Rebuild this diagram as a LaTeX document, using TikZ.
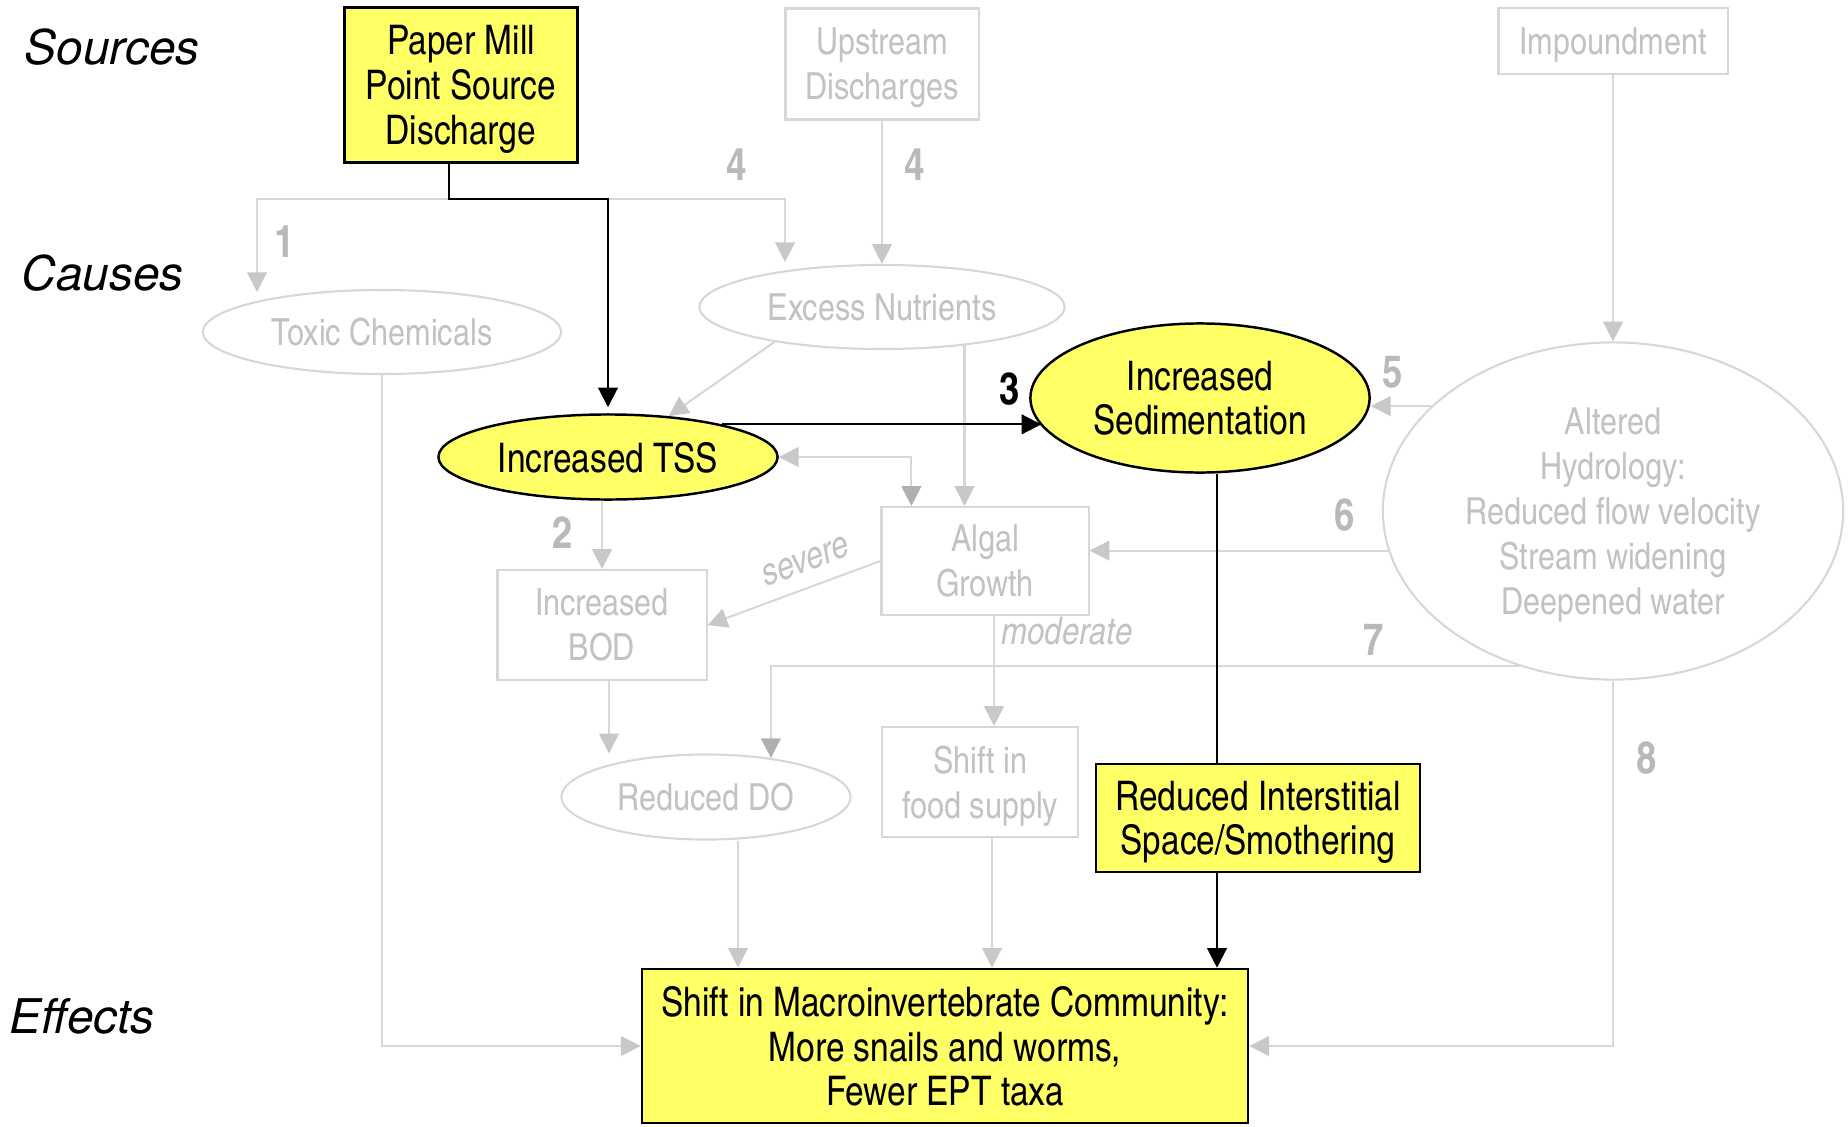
\documentclass[tikz,border=0pt]{standalone}
\usepackage{fontspec}
\setmainfont{texgyreheroscn}[Extension=.otf, UprightFont=*-regular, BoldFont=*-bold, ItalicFont=*-italic, BoldItalicFont=*-bolditalic]
\newfontfamily\widefont{texgyreheros}[Extension=.otf, UprightFont=*-regular, ItalicFont=*-italic]
\usetikzlibrary{shapes.geometric, arrows.meta, calc}

\definecolor{hotyellow}{HTML}{FFFF66}
\definecolor{greyline}{HTML}{D7D7D7}
\definecolor{greytext}{HTML}{C2C2C2}
\definecolor{greynum}{HTML}{B9B9B9}
\definecolor{greyhead}{HTML}{C8C8C8}
\definecolor{greyheaddark}{HTML}{AFAFAF}

\begin{document}
\begin{tikzpicture}[x=0.01cm, y=-0.01cm,
	every node/.style={align=center, inner sep=0pt},
	hotbox/.style={draw=black, line width=0.7pt, fill=hotyellow, text depth=-1pt, font=\fontsize{11.6}{12.7}\selectfont},
	hotoval/.style={hotbox, ellipse},
	coldbox/.style={draw=greyline, line width=0.6pt, text=greytext, text depth=-1pt, font=\fontsize{10.6}{12.8}\selectfont},
	coldoval/.style={coldbox, ellipse},
	greyarrow/.style={draw=greyline, line width=0.6pt, -{Triangle[width=5.6pt, length=5.6pt, color=greyhead]}},
	greydark/.style={draw=greyline, line width=0.6pt, -{Triangle[width=5.6pt, length=5.6pt, color=greyheaddark]}},
	greyboth/.style={draw=greyline, line width=0.6pt, {Triangle[width=5.6pt, length=5.6pt, color=greyhead]}-{Triangle[width=5.6pt, length=5.6pt, color=greyheaddark]}},
	blackarrow/.style={draw=black, line width=0.6pt, -{Triangle[width=5.6pt, length=5.6pt]}},
	blackline/.style={draw=black, line width=0.6pt},
	numlabel/.style={text=greynum, font=\fontsize{12.7}{14}\selectfont\bfseries},
	rowlabel/.style={anchor=west, font=\widefont\itshape\fontsize{13.6}{16}\selectfont},
	notelabel/.style={text=greytext, font=\fontsize{10.8}{12}\selectfont\itshape}]
	\useasboundingbox (0,0) rectangle (1848,1127);

	% Niveles
		\node[rowlabel] (lsrc) at (24,47) {Sources};
		\node[rowlabel] (lcau) at (21,273) {Causes};
		\node[rowlabel] (leff) at (9,1016) {Effects};

	% Fuentes
		\node[hotbox, minimum width=2.33cm, minimum height=1.55cm] (mill) at (461,85) {Paper Mill\\Point Source\\Discharge};
		\node[coldbox, minimum width=1.93cm, minimum height=1.11cm] (up) at (882,64) {Upstream\\Discharges};
		\node[coldbox, minimum width=2.29cm, minimum height=0.66cm] (imp) at (1613,41) {Impoundment};

	% Causas
		\node[coldoval, minimum width=3.58cm, minimum height=0.84cm] (toxic) at (382,332) {Toxic Chemicals};
		\node[coldoval, minimum width=3.65cm, minimum height=0.84cm] (nutr) at (882,307) {Excess Nutrients};
		\node[hotoval, minimum width=3.39cm, minimum height=0.85cm] (tss) at (608,457) {Increased TSS};
		\node[hotoval, minimum width=3.39cm, minimum height=1.49cm] (sed) at (1200,398) {Increased\\Sedimentation};
		\node[coldoval, minimum width=4.6cm, minimum height=3.37cm] (hydro) at (1613,511) {Altered\\Hydrology:\\Reduced flow velocity\\Stream widening\\Deepened water};
		\node[coldbox, minimum width=2.07cm, minimum height=1.08cm] (algal) at (985,561) {Algal\\Growth};
		\node[coldbox, minimum width=2.09cm, minimum height=1.1cm] (bod) at (602,625) {Increased\\BOD};
		\node[coldoval, minimum width=2.89cm, minimum height=0.85cm] (do) at (706,797) {Reduced DO};
		\node[coldbox, minimum width=1.96cm, minimum height=1.1cm] (food) at (980,782) {Shift in\\food supply};
		\node[hotbox, minimum width=3.24cm, minimum height=1.08cm] (inter) at (1258,818) {Reduced Interstitial\\Space/Smothering};

	% Efecto
		\node[hotbox, minimum width=6.06cm, minimum height=1.54cm] (macro) at (945,1046) {Shift in Macroinvertebrate Community:\\More snails and worms,\\Fewer EPT taxa};

	% Flechas grises
		\coordinate (split) at (449,199);
		\coordinate (toxtip) at (257,292);
		\coordinate (nuttip) at (785,262);
		\draw[greyarrow] (split) -| (toxtip);
		\draw[greyarrow] (split) -| (nuttip);
		\draw[greyarrow] (up.south) -- (nutr.north);
		\draw[greyarrow] (imp.south) -- (hydro.north);
		\draw[greyarrow] (nutr.198) -- (tss.34);
		\draw[greyarrow] (nutr.-25) -- (nutr.-25 |- algal.north);
		\draw[greyboth] (tss.east) -| ($(algal.north west)+(31,0)$);
		\draw[greyarrow] (hydro.150) -- (hydro.150 -| sed.east);
		\draw[greyarrow] (hydro.190) -- (hydro.190 -| algal.east);
		\draw[greydark] (hydro.239) -| (do.31);
		\draw[greyarrow] (hydro.south) |- (macro.east);
		\draw[greyarrow] (tss.south -| bod.north) -- (bod.north);
		\draw[greyarrow] (algal.west) -- node[notelabel, sloped, pos=0.38, above=4pt] (lsev) {severe} (bod.east);
		\draw[greyarrow] ($(algal.south)+(9,0)$) coordinate (mod) -- (mod |- food.north);
		\node[notelabel, anchor=west] (lmod) at (1001,631) {moderate};
		\draw[greyarrow] ($(bod.south)+(7,0)$) coordinate (bd) -- (bd |- do.north);
		\draw[greyarrow] (toxic.south) |- (macro.west);
		\draw[greyarrow] ($(do.south)+(32,0)$) coordinate (dm) -- (dm |- macro.north);
		\draw[greyarrow] ($(food.south)+(12,0)$) coordinate (fm) -- (fm |- macro.north);

	% Flechas negras
		\draw[blackarrow] (mill.south -| split) -- (split) -| ($(tss.north)+(0,-6)$);
		\draw[blackarrow] (tss.16) -- (tss.16 -| sed.190);
		\draw[blackline] ($(sed.south)+(17,0)$) coordinate (sm) -- (sm |- inter.north);
		\draw[blackarrow] (sm |- inter.south) -- (sm |- macro.north);

	% Numeros
		\node[numlabel] (n1) at (285,242) {1};
		\node[numlabel] (n2) at (563,533) {2};
		\node[numlabel, text=black] (n3) at (1010,389) {3};
		\node[numlabel] (n4a) at (737,165) {4};
		\node[numlabel] (n4b) at (915,165) {4};
		\node[numlabel] (n5) at (1393,372) {5};
		\node[numlabel] (n6) at (1345,515) {6};
		\node[numlabel] (n7) at (1374,640) {7};
		\node[numlabel] (n8) at (1647,758) {8};
\end{tikzpicture}
\end{document}
